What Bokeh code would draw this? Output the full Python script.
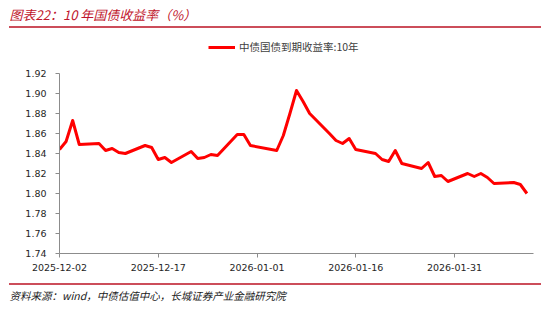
import pandas as pd
from bokeh.plotting import figure
from bokeh.layouts import column
from bokeh.core.properties import value
from bokeh.models import (Range1d, FixedTicker, DatetimeTickFormatter, NumeralTickFormatter,
                          Legend, LegendItem, Div)
from bokeh.embed import file_html
from bokeh.resources import INLINE

# ---- data ----
dates = ["2025-12-02", "2025-12-03", "2025-12-04", "2025-12-05", "2025-12-08", "2025-12-09",
         "2025-12-10", "2025-12-11", "2025-12-12", "2025-12-15", "2025-12-16", "2025-12-17",
         "2025-12-18", "2025-12-19", "2025-12-22", "2025-12-23", "2025-12-24", "2025-12-25",
         "2025-12-26", "2025-12-29", "2025-12-30", "2025-12-31",
         "2026-01-04", "2026-01-05", "2026-01-06", "2026-01-07", "2026-01-08", "2026-01-09",
         "2026-01-12", "2026-01-13", "2026-01-14", "2026-01-15", "2026-01-16", "2026-01-19",
         "2026-01-20", "2026-01-21", "2026-01-22", "2026-01-23", "2026-01-26", "2026-01-27",
         "2026-01-28", "2026-01-29", "2026-01-30",
         "2026-02-02", "2026-02-03", "2026-02-04", "2026-02-05", "2026-02-06", "2026-02-09",
         "2026-02-10", "2026-02-11"]
yield_10y = [1.844, 1.852, 1.873, 1.849, 1.850, 1.843, 1.845, 1.841, 1.840, 1.848, 1.846, 1.834,
             1.836, 1.831, 1.842, 1.835, 1.836, 1.839, 1.838, 1.859, 1.859, 1.848,
             1.843, 1.858, 1.880, 1.903, 1.892, 1.880, 1.860, 1.853, 1.850, 1.855, 1.844, 1.840,
             1.834, 1.832, 1.843, 1.830, 1.825, 1.831, 1.817, 1.818, 1.812,
             1.820, 1.817, 1.820, 1.816, 1.810, 1.811, 1.809, 1.800]
x_tick_dates = ["2025-12-02", "2025-12-17", "2026-01-01", "2026-01-16", "2026-01-31"]
y_ticks = [1.74, 1.76, 1.78, 1.80, 1.82, 1.84, 1.86, 1.88, 1.90, 1.92]
x_start, x_end = "2025-12-02", "2026-02-12"
series_name = "中债国债到期收益率:10年"
title_text = "图表22：10 年国债收益率（%）"
source_text = "资料来源：wind，中债估值中心，长城证券产业金融研究院"

LINE_RED = "#FF0000"
RULE_COLOR = "#CC4D5A"
W = 550
SIDE = 9


def blank_panel(h):
    inner = W - 2 * SIDE
    f = figure(width=W, height=h, output_backend="svg", toolbar_location=None,
               x_range=Range1d(0, inner), y_range=Range1d(0, h),
               x_axis_location=None, y_axis_location=None,
               min_border=0, min_border_left=SIDE, min_border_right=SIDE,
               min_border_top=0, min_border_bottom=0)
    if "frame_align" in f.properties():
        f.frame_align = False
    f.outline_line_color = None
    f.grid.visible = False
    f.background_fill_color = "white"
    f.border_fill_color = "white"
    return f


def rule():
    return Div(text="", width=W - 2 * SIDE, height=2, margin=(0, SIDE, 0, SIDE),
               styles={"background-color": RULE_COLOR})


# ---- title ----
TITLE_H = 26
tt = blank_panel(TITLE_H)
tt.text(x=[0], y=[TITLE_H - 14], text=[title_text], text_font=value("Noto Sans CJK SC"),
        text_font_style="italic", text_font_size="13px", text_color="#C0142B",
        text_baseline="middle", text_align="left")

# ---- legend strip ----
LEG_H = 32
lg = blank_panel(LEG_H)
dummy = lg.line(x=[-100, -90], y=[-100, -100], line_color=LINE_RED, line_width=3)
legend = Legend(items=[LegendItem(label=series_name, renderers=[dummy])],
                location=(208 - SIDE, 6), orientation="horizontal",
                glyph_width=27, glyph_height=10, label_standoff=4, padding=0, margin=0,
                border_line_color=None, background_fill_alpha=0,
                label_text_font="Noto Sans CJK SC", label_text_font_size="10.5px",
                label_text_color="#404040")
lg.add_layout(legend)

# ---- main chart ----
x = pd.to_datetime(dates)
p = figure(width=W, height=223, output_backend="svg", toolbar_location=None,
           x_axis_type="datetime",
           x_range=Range1d(pd.Timestamp(x_start), pd.Timestamp(x_end)),
           y_range=Range1d(y_ticks[0], y_ticks[-1]),
           min_border_left=59, min_border_right=17, min_border_top=13, min_border_bottom=30)
if "frame_align" in p.properties():
    p.frame_align = False
p.outline_line_color = None
p.grid.visible = False
p.background_fill_color = "white"
p.border_fill_color = "white"

p.line(x, yield_10y, line_color=LINE_RED, line_width=3, line_join="round")

tick_ms = [pd.Timestamp(d).value // 10**6 for d in x_tick_dates]
p.xaxis.ticker = FixedTicker(ticks=tick_ms)
fmt = "%Y-%m-%d"
p.xaxis.formatter = DatetimeTickFormatter(milliseconds=fmt, seconds=fmt, minsec=fmt, minutes=fmt,
                                          hourmin=fmt, hours=fmt, days=fmt, months=fmt, years=fmt)
p.yaxis.ticker = FixedTicker(ticks=y_ticks)
p.yaxis.formatter = NumeralTickFormatter(format="0.00")

for ax in (p.xaxis[0], p.yaxis[0]):
    ax.axis_line_color = "#8c8c8c"
    ax.axis_line_width = 1
    ax.major_tick_line_color = "#8c8c8c"
    ax.major_tick_in = 0
    ax.major_tick_out = 4
    ax.minor_tick_line_color = None
    ax.major_label_text_font = "DejaVu Sans"
    ax.major_label_text_font_size = "9.5px"
    ax.major_label_text_color = "#262626"
p.yaxis.major_label_standoff = 9
p.xaxis.major_label_standoff = 6

# ---- footer: source ----
FOOT_H = 36
ft = blank_panel(FOOT_H)
ft.text(x=[0], y=[FOOT_H - 10], text=[source_text], text_font=value("Noto Sans CJK SC"),
        text_font_style="italic", text_font_size="10.5px", text_color="#1a1a1a",
        text_baseline="middle", text_align="left")

layout = column(tt, rule(), lg, p, rule(), ft, spacing=0)
open("out.html", "w").write(file_html(layout, INLINE))
